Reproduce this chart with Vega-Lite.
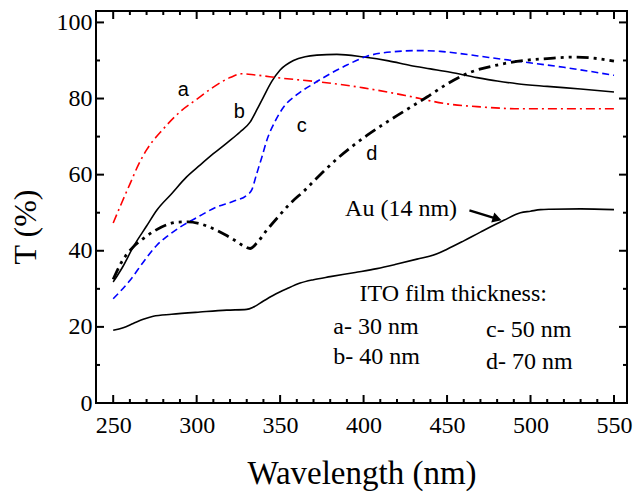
{
  "$schema": "https://vega.github.io/schema/vega-lite/v6.json",
  "width": 531,
  "height": 392,
  "autosize": "none",
  "padding": {"left": 96, "top": 11, "right": 6, "bottom": 89},
  "background": "white",
  "config": {
    "view": {"stroke": "black", "strokeWidth": 2},
    "axis": {"grid": false, "domain": false, "ticks": false, "labelColor": "black", "titleColor": "black", "labelFont": "Liberation Serif", "titleFont": "Liberation Serif", "titleFontWeight": "normal"}
  },
  "datasets": {
    "curves": [
      {"s": "a", "x": 250, "y": 47.3}, {"s": "a", "x": 255, "y": 52.5}, {"s": "a", "x": 260, "y": 57.5}, {"s": "a", "x": 265, "y": 62.5}, {"s": "a", "x": 270, "y": 66.5}, {"s": "a", "x": 280, "y": 72}, {"s": "a", "x": 290, "y": 76.5}, {"s": "a", "x": 300, "y": 79.8}, {"s": "a", "x": 310, "y": 83}, {"s": "a", "x": 320, "y": 85.5}, {"s": "a", "x": 327, "y": 86.5}, {"s": "a", "x": 335, "y": 86.2}, {"s": "a", "x": 350, "y": 85.4}, {"s": "a", "x": 375, "y": 84.3}, {"s": "a", "x": 400, "y": 82.8}, {"s": "a", "x": 425, "y": 80.8}, {"s": "a", "x": 450, "y": 78.6}, {"s": "a", "x": 470, "y": 77.8}, {"s": "a", "x": 495, "y": 77.3}, {"s": "a", "x": 520, "y": 77.3}, {"s": "a", "x": 550, "y": 77.3},
      {"s": "b", "x": 250, "y": 31.8}, {"s": "b", "x": 256, "y": 36}, {"s": "b", "x": 262, "y": 41}, {"s": "b", "x": 270, "y": 46.5}, {"s": "b", "x": 276, "y": 50.6}, {"s": "b", "x": 285, "y": 55}, {"s": "b", "x": 294, "y": 59.4}, {"s": "b", "x": 302, "y": 62.5}, {"s": "b", "x": 310, "y": 65.5}, {"s": "b", "x": 318, "y": 68.3}, {"s": "b", "x": 326, "y": 71.2}, {"s": "b", "x": 332, "y": 73.8}, {"s": "b", "x": 336, "y": 77}, {"s": "b", "x": 340, "y": 80.4}, {"s": "b", "x": 345, "y": 84.5}, {"s": "b", "x": 350, "y": 87.5}, {"s": "b", "x": 358, "y": 90}, {"s": "b", "x": 365, "y": 91}, {"s": "b", "x": 372, "y": 91.4}, {"s": "b", "x": 384, "y": 91.6}, {"s": "b", "x": 400, "y": 90.9}, {"s": "b", "x": 415, "y": 89.9}, {"s": "b", "x": 428, "y": 88.7}, {"s": "b", "x": 440, "y": 87.8}, {"s": "b", "x": 452, "y": 86.9}, {"s": "b", "x": 468, "y": 85.5}, {"s": "b", "x": 480, "y": 84.6}, {"s": "b", "x": 492, "y": 83.9}, {"s": "b", "x": 510, "y": 83.2}, {"s": "b", "x": 530, "y": 82.5}, {"s": "b", "x": 550, "y": 81.7},
      {"s": "c", "x": 250, "y": 27.4}, {"s": "c", "x": 260, "y": 32.2}, {"s": "c", "x": 268, "y": 37}, {"s": "c", "x": 276, "y": 41.4}, {"s": "c", "x": 283, "y": 44}, {"s": "c", "x": 290, "y": 46.2}, {"s": "c", "x": 300, "y": 48.7}, {"s": "c", "x": 312, "y": 51.5}, {"s": "c", "x": 322, "y": 53}, {"s": "c", "x": 330, "y": 54.6}, {"s": "c", "x": 333, "y": 56}, {"s": "c", "x": 336, "y": 60.3}, {"s": "c", "x": 339, "y": 64.5}, {"s": "c", "x": 342, "y": 69}, {"s": "c", "x": 347, "y": 74}, {"s": "c", "x": 352, "y": 77.7}, {"s": "c", "x": 360, "y": 81}, {"s": "c", "x": 370, "y": 83.9}, {"s": "c", "x": 380, "y": 86.5}, {"s": "c", "x": 390, "y": 88.8}, {"s": "c", "x": 402, "y": 91.1}, {"s": "c", "x": 418, "y": 92.3}, {"s": "c", "x": 434, "y": 92.6}, {"s": "c", "x": 446, "y": 92.4}, {"s": "c", "x": 458, "y": 91.8}, {"s": "c", "x": 475, "y": 90.8}, {"s": "c", "x": 496, "y": 89.6}, {"s": "c", "x": 520, "y": 88.2}, {"s": "c", "x": 550, "y": 86.1},
      {"s": "d", "x": 250, "y": 32.5}, {"s": "d", "x": 255, "y": 37}, {"s": "d", "x": 262, "y": 41}, {"s": "d", "x": 268, "y": 43.2}, {"s": "d", "x": 275, "y": 45.3}, {"s": "d", "x": 282, "y": 46.8}, {"s": "d", "x": 288, "y": 47.5}, {"s": "d", "x": 295, "y": 47.6}, {"s": "d", "x": 302, "y": 47.1}, {"s": "d", "x": 310, "y": 45.8}, {"s": "d", "x": 318, "y": 44}, {"s": "d", "x": 323, "y": 42.7}, {"s": "d", "x": 328, "y": 41.3}, {"s": "d", "x": 332, "y": 40.6}, {"s": "d", "x": 336, "y": 42}, {"s": "d", "x": 342, "y": 45.4}, {"s": "d", "x": 349, "y": 49}, {"s": "d", "x": 356, "y": 52.4}, {"s": "d", "x": 365, "y": 56}, {"s": "d", "x": 374, "y": 60}, {"s": "d", "x": 385, "y": 64.5}, {"s": "d", "x": 402, "y": 70.3}, {"s": "d", "x": 420, "y": 75.5}, {"s": "d", "x": 438, "y": 80.4}, {"s": "d", "x": 450, "y": 83.8}, {"s": "d", "x": 464, "y": 86.9}, {"s": "d", "x": 480, "y": 88.8}, {"s": "d", "x": 496, "y": 90}, {"s": "d", "x": 510, "y": 90.5}, {"s": "d", "x": 526, "y": 90.9}, {"s": "d", "x": 540, "y": 90.5}, {"s": "d", "x": 550, "y": 89.8},
      {"s": "Au", "x": 250, "y": 19.1}, {"s": "Au", "x": 256, "y": 19.8}, {"s": "Au", "x": 262, "y": 20.9}, {"s": "Au", "x": 268, "y": 22}, {"s": "Au", "x": 274, "y": 22.8}, {"s": "Au", "x": 285, "y": 23.3}, {"s": "Au", "x": 302, "y": 23.9}, {"s": "Au", "x": 318, "y": 24.4}, {"s": "Au", "x": 330, "y": 24.6}, {"s": "Au", "x": 334, "y": 25.2}, {"s": "Au", "x": 340, "y": 26.8}, {"s": "Au", "x": 346, "y": 28.3}, {"s": "Au", "x": 354, "y": 30}, {"s": "Au", "x": 362, "y": 31.5}, {"s": "Au", "x": 370, "y": 32.4}, {"s": "Au", "x": 380, "y": 33.2}, {"s": "Au", "x": 395, "y": 34.3}, {"s": "Au", "x": 408, "y": 35.3}, {"s": "Au", "x": 420, "y": 36.5}, {"s": "Au", "x": 432, "y": 37.8}, {"s": "Au", "x": 444, "y": 39.2}, {"s": "Au", "x": 450, "y": 40.4}, {"s": "Au", "x": 460, "y": 42.6}, {"s": "Au", "x": 470, "y": 44.9}, {"s": "Au", "x": 484, "y": 48}, {"s": "Au", "x": 494, "y": 50}, {"s": "Au", "x": 500, "y": 50.4}, {"s": "Au", "x": 506, "y": 50.8}, {"s": "Au", "x": 512, "y": 50.9}, {"s": "Au", "x": 530, "y": 51}, {"s": "Au", "x": 550, "y": 50.8}
    ],
    "xTicks": [
      {"v": 250, "k": "M"}, {"v": 260, "k": "m"}, {"v": 270, "k": "m"}, {"v": 280, "k": "m"}, {"v": 290, "k": "m"},
      {"v": 300, "k": "M"}, {"v": 310, "k": "m"}, {"v": 320, "k": "m"}, {"v": 330, "k": "m"}, {"v": 340, "k": "m"},
      {"v": 350, "k": "M"}, {"v": 360, "k": "m"}, {"v": 370, "k": "m"}, {"v": 380, "k": "m"}, {"v": 390, "k": "m"},
      {"v": 400, "k": "M"}, {"v": 410, "k": "m"}, {"v": 420, "k": "m"}, {"v": 430, "k": "m"}, {"v": 440, "k": "m"},
      {"v": 450, "k": "M"}, {"v": 460, "k": "m"}, {"v": 470, "k": "m"}, {"v": 480, "k": "m"}, {"v": 490, "k": "m"},
      {"v": 500, "k": "M"}, {"v": 510, "k": "m"}, {"v": 520, "k": "m"}, {"v": 530, "k": "m"}, {"v": 540, "k": "m"},
      {"v": 550, "k": "M"}
    ],
    "yTicks": [
      {"v": 0, "k": "M"}, {"v": 10, "k": "m"}, {"v": 20, "k": "M"}, {"v": 30, "k": "m"}, {"v": 40, "k": "M"}, {"v": 50, "k": "m"},
      {"v": 60, "k": "M"}, {"v": 70, "k": "m"}, {"v": 80, "k": "M"}, {"v": 90, "k": "m"}, {"v": 100, "k": "M"}
    ],
    "curveLabels": [
      {"t": "a", "x": 292, "y": 82.3},
      {"t": "b", "x": 325.6, "y": 76.4},
      {"t": "c", "x": 362.9, "y": 72.7},
      {"t": "d", "x": 404.9, "y": 65.3}
    ],
    "notes": [
      {"t": "Au (14 nm)", "x": 388.9, "y": 51.1},
      {"t": "ITO film thickness:", "x": 397.5, "y": 28.7},
      {"t": "a- 30 nm", "x": 381.9, "y": 20.1},
      {"t": "b- 40 nm", "x": 381.9, "y": 12.1},
      {"t": "c- 50 nm", "x": 473.4, "y": 19.1},
      {"t": "d- 70 nm", "x": 473.4, "y": 10.8}
    ],
    "arrow": [
      {"x": 463.4, "y": 50.6, "x2": 480.0, "y2": 48.4}
    ],
    "head": [
      {"x": 480.0, "y": 48.4}
    ]
  },
  "layer": [
    {
      "data": {"name": "curves"},
      "transform": [{"filter": "datum.s === 'b' || datum.s === 'Au'"}],
      "mark": {"type": "line", "interpolate": "monotone", "color": "black", "strokeWidth": 1.6},
      "encoding": {
        "x": {"field": "x", "type": "quantitative", "scale": {"domain": [239.7, 557.8], "nice": false, "zero": false},
          "axis": {"orient": "bottom", "ticks": false, "values": [250, 300, 350, 400, 450, 500, 550], "labelFontSize": 24, "labelBaseline": "alphabetic", "labelPadding": 29, "labelFlush": false, "title": "Wavelength (nm)", "titleFontSize": 33, "titleY": 80, "titleBaseline": "alphabetic"}},
        "y": {"field": "y", "type": "quantitative", "scale": {"domain": [0, 103], "nice": false, "zero": false},
          "axis": {"orient": "left", "ticks": false, "values": [0, 20, 40, 60, 80, 100], "labelFontSize": 24, "labelPadding": 4, "labelFlush": false, "title": "T (%)", "titleFontSize": 32, "titleAngle": 270, "titleX": -61, "titleY": 215.5, "titleAlign": "center", "titleBaseline": "alphabetic"}},
        "detail": {"field": "s"}
      }
    },
    {
      "data": {"name": "curves"},
      "transform": [{"filter": "datum.s === 'a'"}],
      "mark": {"type": "line", "interpolate": "monotone", "color": "#ff0000", "strokeWidth": 1.6, "strokeDash": [9, 4, 2, 4]},
      "encoding": {
        "x": {"field": "x", "type": "quantitative", "scale": {"domain": [239.7, 557.8], "nice": false, "zero": false}, "axis": null},
        "y": {"field": "y", "type": "quantitative", "scale": {"domain": [0, 103], "nice": false, "zero": false}, "axis": null}
      }
    },
    {
      "data": {"name": "curves"},
      "transform": [{"filter": "datum.s === 'c'"}],
      "mark": {"type": "line", "interpolate": "monotone", "color": "#0000ff", "strokeWidth": 1.6, "strokeDash": [7, 4]},
      "encoding": {
        "x": {"field": "x", "type": "quantitative", "scale": {"domain": [239.7, 557.8], "nice": false, "zero": false}, "axis": null},
        "y": {"field": "y", "type": "quantitative", "scale": {"domain": [0, 103], "nice": false, "zero": false}, "axis": null}
      }
    },
    {
      "data": {"name": "curves"},
      "transform": [{"filter": "datum.s === 'd'"}],
      "mark": {"type": "line", "interpolate": "monotone", "color": "black", "strokeWidth": 2.8, "strokeDash": [12, 5, 3, 5, 3, 5]},
      "encoding": {
        "x": {"field": "x", "type": "quantitative", "scale": {"domain": [239.7, 557.8], "nice": false, "zero": false}, "axis": null},
        "y": {"field": "y", "type": "quantitative", "scale": {"domain": [0, 103], "nice": false, "zero": false}, "axis": null}
      }
    },
    {
      "data": {"name": "xTicks"},
      "transform": [{"filter": "datum.k === 'M'"}],
      "mark": {"type": "tick", "orient": "vertical", "size": 8, "thickness": 2, "color": "black", "opacity": 1},
      "encoding": {
        "x": {"field": "v", "type": "quantitative", "scale": {"domain": [239.7, 557.8], "nice": false, "zero": false}, "axis": null},
        "y": {"datum": 1.05, "type": "quantitative", "scale": {"domain": [0, 103], "nice": false, "zero": false}, "axis": null}
      }
    },
    {
      "data": {"name": "xTicks"},
      "transform": [{"filter": "datum.k === 'm'"}],
      "mark": {"type": "tick", "orient": "vertical", "size": 4, "thickness": 2, "color": "black", "opacity": 1},
      "encoding": {
        "x": {"field": "v", "type": "quantitative", "scale": {"domain": [239.7, 557.8], "nice": false, "zero": false}, "axis": null},
        "y": {"datum": 0.525, "type": "quantitative", "scale": {"domain": [0, 103], "nice": false, "zero": false}, "axis": null}
      }
    },
    {
      "data": {"name": "xTicks"},
      "transform": [{"filter": "datum.k === 'M'"}],
      "mark": {"type": "tick", "orient": "vertical", "size": 8, "thickness": 2, "color": "black", "opacity": 1},
      "encoding": {
        "x": {"field": "v", "type": "quantitative", "scale": {"domain": [239.7, 557.8], "nice": false, "zero": false}, "axis": null},
        "y": {"datum": 101.95, "type": "quantitative", "scale": {"domain": [0, 103], "nice": false, "zero": false}, "axis": null}
      }
    },
    {
      "data": {"name": "xTicks"},
      "transform": [{"filter": "datum.k === 'm'"}],
      "mark": {"type": "tick", "orient": "vertical", "size": 4, "thickness": 2, "color": "black", "opacity": 1},
      "encoding": {
        "x": {"field": "v", "type": "quantitative", "scale": {"domain": [239.7, 557.8], "nice": false, "zero": false}, "axis": null},
        "y": {"datum": 102.475, "type": "quantitative", "scale": {"domain": [0, 103], "nice": false, "zero": false}, "axis": null}
      }
    },
    {
      "data": {"name": "yTicks"},
      "transform": [{"filter": "datum.k === 'M'"}],
      "mark": {"type": "tick", "orient": "horizontal", "size": 8, "thickness": 2, "color": "black", "opacity": 1},
      "encoding": {
        "y": {"field": "v", "type": "quantitative", "scale": {"domain": [0, 103], "nice": false, "zero": false}, "axis": null},
        "x": {"datum": 242.1, "type": "quantitative", "scale": {"domain": [239.7, 557.8], "nice": false, "zero": false}, "axis": null}
      }
    },
    {
      "data": {"name": "yTicks"},
      "transform": [{"filter": "datum.k === 'm'"}],
      "mark": {"type": "tick", "orient": "horizontal", "size": 4, "thickness": 2, "color": "black", "opacity": 1},
      "encoding": {
        "y": {"field": "v", "type": "quantitative", "scale": {"domain": [0, 103], "nice": false, "zero": false}, "axis": null},
        "x": {"datum": 240.9, "type": "quantitative", "scale": {"domain": [239.7, 557.8], "nice": false, "zero": false}, "axis": null}
      }
    },
    {
      "data": {"name": "yTicks"},
      "transform": [{"filter": "datum.k === 'M'"}],
      "mark": {"type": "tick", "orient": "horizontal", "size": 8, "thickness": 2, "color": "black", "opacity": 1},
      "encoding": {
        "y": {"field": "v", "type": "quantitative", "scale": {"domain": [0, 103], "nice": false, "zero": false}, "axis": null},
        "x": {"datum": 555.4, "type": "quantitative", "scale": {"domain": [239.7, 557.8], "nice": false, "zero": false}, "axis": null}
      }
    },
    {
      "data": {"name": "yTicks"},
      "transform": [{"filter": "datum.k === 'm'"}],
      "mark": {"type": "tick", "orient": "horizontal", "size": 4, "thickness": 2, "color": "black", "opacity": 1},
      "encoding": {
        "y": {"field": "v", "type": "quantitative", "scale": {"domain": [0, 103], "nice": false, "zero": false}, "axis": null},
        "x": {"datum": 556.6, "type": "quantitative", "scale": {"domain": [239.7, 557.8], "nice": false, "zero": false}, "axis": null}
      }
    },
    {
      "data": {"name": "curveLabels"},
      "mark": {"type": "text", "font": "Liberation Sans", "fontSize": 20, "align": "center", "baseline": "middle", "color": "black"},
      "encoding": {
        "x": {"field": "x", "type": "quantitative", "scale": {"domain": [239.7, 557.8], "nice": false, "zero": false}, "axis": null},
        "y": {"field": "y", "type": "quantitative", "scale": {"domain": [0, 103], "nice": false, "zero": false}, "axis": null},
        "text": {"field": "t"}
      }
    },
    {
      "data": {"name": "notes"},
      "mark": {"type": "text", "font": "Liberation Serif", "fontSize": 24, "align": "left", "baseline": "middle", "color": "black"},
      "encoding": {
        "x": {"field": "x", "type": "quantitative", "scale": {"domain": [239.7, 557.8], "nice": false, "zero": false}, "axis": null},
        "y": {"field": "y", "type": "quantitative", "scale": {"domain": [0, 103], "nice": false, "zero": false}, "axis": null},
        "text": {"field": "t"}
      }
    },
    {
      "data": {"name": "arrow"},
      "mark": {"type": "rule", "color": "black", "strokeWidth": 2.4},
      "encoding": {
        "x": {"field": "x", "type": "quantitative", "scale": {"domain": [239.7, 557.8], "nice": false, "zero": false}, "axis": null},
        "y": {"field": "y", "type": "quantitative", "scale": {"domain": [0, 103], "nice": false, "zero": false}, "axis": null},
        "x2": {"field": "x2"},
        "y2": {"field": "y2"}
      }
    },
    {
      "data": {"name": "head"},
      "mark": {"type": "point", "shape": "triangle-right", "filled": true, "color": "black", "opacity": 1, "size": 110, "angle": 17},
      "encoding": {
        "x": {"field": "x", "type": "quantitative", "scale": {"domain": [239.7, 557.8], "nice": false, "zero": false}, "axis": null},
        "y": {"field": "y", "type": "quantitative", "scale": {"domain": [0, 103], "nice": false, "zero": false}, "axis": null}
      }
    }
  ],
  "resolve": {"scale": {"x": "independent", "y": "independent"}, "axis": {"x": "independent", "y": "independent"}}
}
